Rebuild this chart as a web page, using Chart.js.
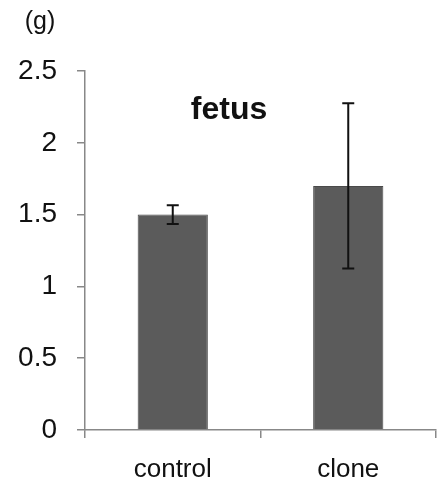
<!DOCTYPE html>
<html>
<head>
<meta charset="utf-8">
<script src="https://cdn.jsdelivr.net/npm/chart.js@4"></script>
<style>
html,body{margin:0;padding:0;background:#fff;}
#wrap{width:443px;height:491px;position:relative;}
</style>
</head>
<body>
<div id="wrap"><canvas id="c" width="443" height="491"></canvas></div>
<script>
const categories = ['control', 'clone'];
const meanValues = [1.5, 1.7];
const errorValues = [0.065, 0.575];
const yTicks = [0, 0.5, 1, 1.5, 2, 2.5];
const chartTitle = 'fetus';
const unitLabel = '(g)';

const FONT = "'Liberation Sans', Arial, sans-serif";

const errorBarPlugin = {
  id: 'errorBars',
  afterDatasetsDraw(chart) {
    const ctx = chart.ctx;
    const meta = chart.getDatasetMeta(0);
    const yScale = chart.scales.y;
    ctx.save();
    ctx.strokeStyle = '#111';
    ctx.lineWidth = 2;
    meta.data.forEach((bar, i) => {
      const x = bar.x;
      const top = yScale.getPixelForValue(meanValues[i] + errorValues[i]);
      const bot = yScale.getPixelForValue(meanValues[i] - errorValues[i]);
      ctx.beginPath();
      ctx.moveTo(x, top); ctx.lineTo(x, bot);
      ctx.moveTo(x - 6, top); ctx.lineTo(x + 6, top);
      ctx.moveTo(x - 6, bot); ctx.lineTo(x + 6, bot);
      ctx.stroke();
    });
    ctx.restore();
  }
};

const textPlugin = {
  id: 'texts',
  afterDraw(chart) {
    const ctx = chart.ctx;
    ctx.save();
    ctx.fillStyle = '#111';
    ctx.textAlign = 'center';
    ctx.textBaseline = 'middle';
    ctx.font = 'bold 32px ' + FONT;
    ctx.fillText(chartTitle, 229, 110);
    ctx.font = '25px ' + FONT;
    ctx.fillText(unitLabel, 40, 22);
    ctx.restore();
  }
};

new Chart(document.getElementById('c'), {
  type: 'bar',
  data: {
    labels: categories,
    datasets: [{
      data: meanValues,
      backgroundColor: '#5b5b5b',
      borderColor: '#4a4a4a',
      borderWidth: 1,
      categoryPercentage: 1,
      barPercentage: 0.4
    }]
  },
  options: {
    responsive: false,
    animation: false,
    devicePixelRatio: 1,
    layout: { padding: { top: 71, right: 7, left: 0, bottom: 0 } },
    plugins: { legend: { display: false }, tooltip: { enabled: false }, title: { display: false } },
    scales: {
      x: {
        grid: { offset: true, drawOnChartArea: false, tickLength: 8, color: '#888', lineWidth: 1.5 },
        border: { color: '#888', width: 1.5 },
        ticks: { font: { family: FONT, size: 26 }, color: '#111', padding: 16 },
        afterFit(scale) { scale.height = 61; }
      },
      y: {
        min: 0, max: 2.5,
        afterBuildTicks(scale) { scale.ticks = yTicks.map(v => ({ value: v })); },
        grid: { drawOnChartArea: false, tickLength: 8, color: '#888', lineWidth: 1.5 },
        border: { color: '#888', width: 1.5 },
        ticks: { font: { family: FONT, size: 28 }, color: '#111', padding: 20,
                 callback: (v) => String(v) },
        afterFit(scale) { scale.width = 85; }
      }
    }
  },
  plugins: [errorBarPlugin, textPlugin]
});
</script>
</body>
</html>
